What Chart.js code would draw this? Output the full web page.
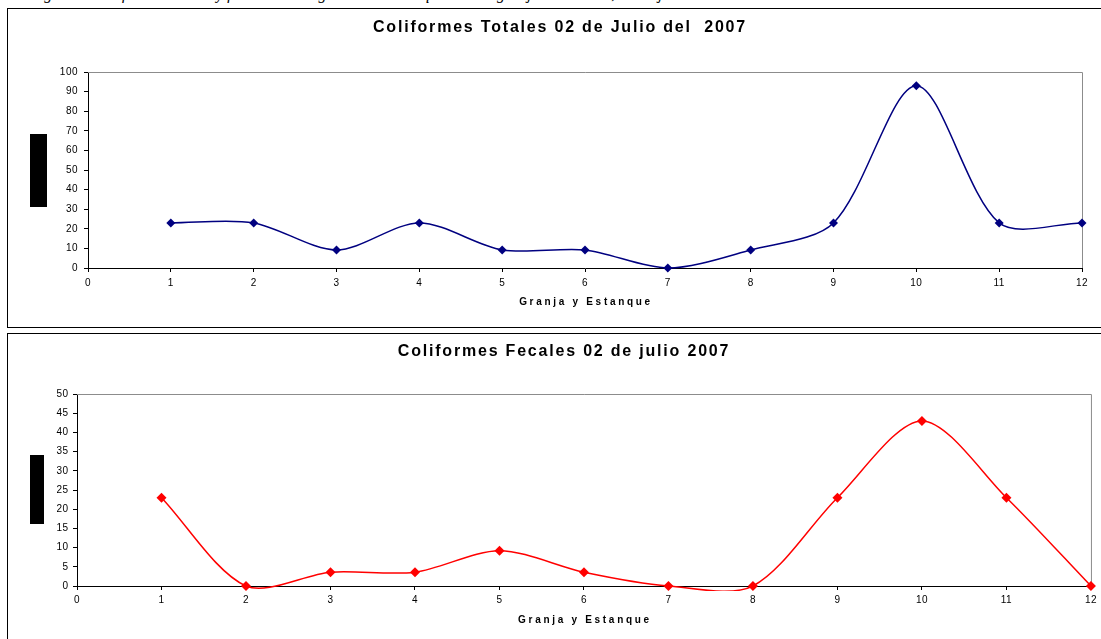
<!DOCTYPE html>
<html>
<head>
<meta charset="utf-8">
<script src="https://cdn.jsdelivr.net/npm/chart.js@4/dist/chart.umd.min.js"></script>
<style>
  body { margin: 0; background: #fff; width: 1101px; height: 639px; overflow: hidden; position: relative; }
  .leyenda { position: absolute; left: 30px; top: -14px; font: italic 16px "Liberation Serif", serif; line-height: 16px; white-space: nowrap; color: #000; }
  .marco { position: absolute; border: 1px solid #000; box-sizing: border-box; }
  .tapa { position: absolute; background: #000; }
  canvas { position: absolute; left: 0; }
</style>
</head>
<body>
<div class="leyenda">Figura 5. Coliformes totales y fecales en el agua de los estanques de las granjas acuícolas, 02 de julio del 2007</div>
<div class="marco" style="left:7px; top:8px; width:1110px; height:320px;"></div>
<div class="marco" style="left:7px; top:333px; width:1110px; height:320px;"></div>
<canvas id="graficaTotales" width="1101" height="330" style="top:0"></canvas>
<canvas id="graficaFecales" width="1101" height="309" style="top:330px"></canvas>
<div class="tapa" style="left:30px; top:134px; width:17px; height:73px;"></div>
<div class="tapa" style="left:30px; top:455px; width:14px; height:69px;"></div>
<script>
// datos
const granjas = [1, 2, 3, 4, 5, 6, 7, 8, 9, 10, 11, 12];
const totales = [23, 23, 9.2, 23, 9.2, 9.2, 0, 9.2, 23, 93, 23, 23];
const fecales = [23, 0, 3.6, 3.6, 9.2, 3.6, 0, 0, 23, 43, 23, 0];
const ticksX = [0, 1, 2, 3, 4, 5, 6, 7, 8, 9, 10, 11, 12];
const ticksTotales = [0, 10, 20, 30, 40, 50, 60, 70, 80, 90, 100];
const ticksFecales = [0, 5, 10, 15, 20, 25, 30, 35, 40, 45, 50];
const tituloTotales = 'Coliformes Totales 02 de Julio del  2007';
const tituloFecales = 'Coliformes Fecales 02 de julio 2007';
const tituloEjeX = 'Granja y Estanque';

const rotulos = {
  id: 'rotulos',
  beforeDraw(chart) {
    chart.ctx.letterSpacing = '0.5px';
  },
  beforeDatasetsDraw(chart) {
    const { ctx, chartArea: a } = chart;
    ctx.save();
    ctx.strokeStyle = '#8c8c8c';
    ctx.lineWidth = 1;
    ctx.beginPath();
    ctx.moveTo(a.left, a.top + 0.5);
    ctx.lineTo(a.right + 0.5, a.top + 0.5);
    ctx.lineTo(a.right + 0.5, a.bottom);
    ctx.stroke();
    ctx.restore();
  },
  afterDraw(chart, args, op) {
    const { ctx, chartArea: a } = chart;
    ctx.save();
    ctx.fillStyle = '#000';
    ctx.textAlign = 'center';
    ctx.textBaseline = 'middle';
    ctx.letterSpacing = '1.8px';
    ctx.font = 'bold 16px Arial, "Liberation Sans"';
    ctx.fillText(op.titulo, op.xTitulo, op.yTitulo);
    ctx.letterSpacing = '2.7px';
    ctx.font = 'bold 10px Arial, "Liberation Sans"';
    ctx.fillText(tituloEjeX, (a.left + a.right) / 2 + 1, a.bottom + op.yEje);
    ctx.restore();
  }
};

function crearGrafica(id, valores, ticksY, color, radio, cfg) {
  new Chart(document.getElementById(id), {
    type: 'line',
    data: {
      datasets: [{
        data: granjas.map((g, i) => ({ x: g, y: valores[i] })),
        borderColor: color,
        backgroundColor: color,
        borderWidth: 1.5,
        pointStyle: 'rectRot',
        pointRadius: radio,
        pointBorderWidth: 0,
        tension: 0.3,
        clip: { left: 0, top: 6, right: 6, bottom: 5 }
      }]
    },
    options: {
      responsive: false,
      animation: false,
      events: [],
      elements: { line: { capBezierPoints: false } },
      layout: { padding: cfg.padding },
      plugins: {
        legend: { display: false },
        tooltip: { enabled: false },
        rotulos: cfg.rotulos
      },
      scales: {
        x: {
          type: 'linear',
          min: 0,
          max: 12,
          afterBuildTicks: s => { s.ticks = ticksX.map(v => ({ value: v })); },
          afterFit: s => { s.height = cfg.altoX; },
          grid: { drawOnChartArea: false, tickLength: 4, color: '#000' },
          border: { color: '#000', width: 1 },
          ticks: { color: '#000', padding: cfg.padX, font: { family: 'Arial', size: 10 }, maxRotation: 0 }
        },
        y: {
          min: ticksY[0],
          max: ticksY[ticksY.length - 1],
          afterBuildTicks: s => { s.ticks = ticksY.map(v => ({ value: v })); },
          afterFit: s => { s.width = cfg.anchoY; },
          grid: { drawOnChartArea: false, tickLength: 4, color: '#000' },
          border: { color: '#000', width: 1 },
          ticks: { color: '#000', padding: cfg.padY, font: { family: 'Arial', size: 10 } }
        }
      }
    },
    plugins: [rotulos]
  });
}

crearGrafica('graficaTotales', totales, ticksTotales, '#000080', 4.5, {
  padding: { left: 48, right: 19, top: 72, bottom: 0 },
  altoX: 62, anchoY: 40, padX: 5, padY: 6,
  rotulos: { titulo: tituloTotales, xTitulo: 560, yTitulo: 28, yEje: 34 }
});

crearGrafica('graficaFecales', fecales, ticksFecales, '#ff0000', 5, {
  padding: { left: 41, right: 8, top: 64, bottom: 0 },
  altoX: 53, anchoY: 36, padX: 4.5, padY: 4.5,
  rotulos: { titulo: tituloFecales, xTitulo: 564, yTitulo: 22, yEje: 34 }
});
</script>
</body>
</html>
